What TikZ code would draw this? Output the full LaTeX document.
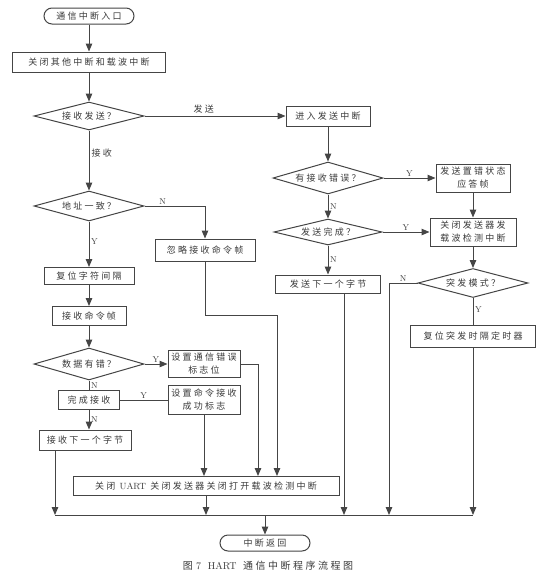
\documentclass[tikz,border=0pt]{standalone}
\usepackage{fontspec}
\usepackage{tikz}
\usetikzlibrary{arrows.meta,positioning,shapes.geometric,calc}
\newfontfamily\cjk[LetterSpace=25]{Noto Sans CJK SC}
\definecolor{ink}{HTML}{454545}
\definecolor{txt}{HTML}{3A3A3A}

\begin{document}
\begin{tikzpicture}[x=1pt,y=-1pt,
  proc/.style={draw=ink, line width=1pt, fill=white, inner sep=1pt, align=center, text=txt, font=\cjk\fontsize{9}{13}\selectfont},
  dec/.style={diamond, draw=ink, line width=1pt, fill=white, aspect=4, inner sep=0pt, text=txt, font=\cjk\fontsize{9}{13}\selectfont},
  term/.style={draw=ink, line width=1pt, fill=white, rounded corners=8pt, minimum width=90pt, minimum height=16pt, inner sep=1pt, text=txt, font=\cjk\fontsize{9}{13}\selectfont},
  flow/.style={draw=ink, line width=1pt},
  arr/.style={flow, -{Triangle[length=8pt,width=6.5pt]}},
  yn/.style={text=txt, font=\fontsize{8.5}{9}\selectfont, inner sep=1.5pt},
  lbl/.style={text=txt, font=\cjk\fontsize{9}{10}\selectfont, inner sep=2pt}
]
  \useasboundingbox (0,0) rectangle (542,582);

  % receive side
  \node[term] (entry) at (89,16) {通信中断入口};
  \node[proc, minimum width=153pt, minimum height=20pt] (closeall) at (89,62) {关闭其他中断和载波中断};
  \node[dec, minimum width=110pt, minimum height=28pt] (rxtx) at (89,116) {接收发送？};
  \node[dec, minimum width=110pt, minimum height=30pt] (addr) at (89,206) {地址一致？};
  \node[proc, minimum width=100pt, minimum height=22pt] (ignore) at (205,250) {忽略接收命令帧};
  \node[proc, minimum width=90pt, minimum height=17pt] (rstgap) at (89,276) {复位字符间隔};
  \node[proc, minimum width=74pt, minimum height=19pt] (rxcmd) at (89,316) {接收命令帧};
  \node[dec, minimum width=110pt, minimum height=32pt] (dataerr) at (89,364) {数据有错？};
  \node[proc, minimum width=72pt, minimum height=27pt] (seterr) at (204,364) {设置通信错误\\标志位};
  \node[proc, minimum width=61pt, minimum height=19pt] (rxdone) at (89,400) {完成接收};
  \node[proc, minimum width=72pt, minimum height=29pt] (setok) at (204,400) {设置命令接收\\成功标志};
  \node[proc, minimum width=92pt, minimum height=20pt] (rxnext) at (85,440) {接收下一个字节};
  \node[proc, minimum width=266pt, minimum height=19pt] (close) at (206,486) {关闭 {\rmfamily UART} 关闭发送器关闭打开载波检测中断};
  \node[term] (ret) at (265,543) {中断返回};

  % send side
  \node[proc, minimum width=84pt, minimum height=20pt] (txin) at (328,116) {进入发送中断};
  \node[dec, minimum width=110pt, minimum height=32pt] (rxerr) at (328,178) {有接收错误？};
  \node[proc, minimum width=74pt, minimum height=28pt] (errack) at (473,178) {发送置错状态\\应答帧};
  \node[dec, minimum width=108pt, minimum height=26pt] (txdone) at (328,232) {发送完成？};
  \node[proc, minimum width=86pt, minimum height=28pt] (txoff) at (473,232) {关闭发送器发\\载波检测中断};
  \node[proc, minimum width=105pt, minimum height=18pt] (txnext) at (328,284) {发送下一个字节};
  \node[dec, minimum width=110pt, minimum height=29pt] (burst) at (473,283) {突发模式？};
  \node[proc, minimum width=125pt, minimum height=22pt] (rsttimer) at (473,336) {复位突发时隔定时器};

  \node[text=txt, font=\fontsize{10}{12}\selectfont] (caption) at (268,566) {{\cjk 图}\ 7\ \ HART\ \ {\cjk 通信中断程序流程图}};

  % bend and join points
  \coordinate (skipturn) at (277,315);
  \coordinate (errx) at (258,364);
  \coordinate (jl) at (55,515);
  \coordinate (jr) at (473,515);
  \coordinate (txdown) at (344,515);
  \coordinate (burstn) at (389,515);

  \draw[arr] (entry) -- (closeall);
  \draw[arr] (closeall) -- (rxtx);
  \draw[arr] (rxtx.east) -- node[lbl, above, pos=0.42] (lsend) {发送} (txin.west);
  \draw[arr] (rxtx) -- node[lbl, right, pos=0.38] (lrecv) {接收} (addr);
  \draw[arr] (addr.east) -| node[yn, above, pos=0.15] (naddr) {N} (ignore.north);
  \draw[arr] (addr) -- node[yn, right, pos=0.45] (yaddr) {Y} (rstgap);
  \draw[arr] (rstgap) -- (rxcmd);
  \draw[arr] (rxcmd) -- (dataerr);
  \draw[arr] (dataerr.east) -- node[yn, above] (ydata) {Y} (seterr.west);
  \draw[flow] (dataerr.south) -- node[yn, right] (ndata) {N} (rxdone.north);
  \draw[flow] (rxdone.east) -- node[yn, above] (ydone) {Y} (setok.west);
  \draw[arr] (rxdone.south) -- node[yn, right] (ndone) {N} (rxdone.south |- rxnext.north);
  \draw[arr] (seterr.east) -| (close.north -| errx);
  \draw[arr] (setok.south) -- (setok.south |- close.north);
  \draw[arr] (ignore.south) |- (skipturn) -- (close.north -| skipturn);

  \draw[arr] (txin) -- (rxerr);
  \draw[arr] (rxerr.east) -- node[yn, above] (yrxerr) {Y} (errack.west);
  \draw[arr] (errack) -- (txoff);
  \draw[arr] (rxerr) -- node[yn, right] (nrxerr) {N} (txdone);
  \draw[arr] (txdone.east) -- node[yn, above] (ytxdone) {Y} (txoff.west);
  \draw[arr] (txdone) -- node[yn, right] (ntxdone) {N} (txnext);
  \draw[arr] (txoff) -- (burst);
  \draw[flow] (burst) -- node[yn, right, pos=0.45] (yburst) {Y} (rsttimer);

  % collect to return
  \draw[flow] (jl) -- (jr);
  \draw[arr] (rxnext.south -| jl) -- (jl);
  \draw[arr] (close.south) -- (close.south |- jl);
  \draw[arr] (txnext.south -| txdown) -- (txdown);
  \draw[arr] (burst.west) -| node[yn, above, pos=0.25] (nburst) {N} (burstn);
  \draw[arr] (rsttimer.south) -- (jr);
  \draw[arr] (ret.north |- jl) -- (ret.north);
\end{tikzpicture}
\end{document}
